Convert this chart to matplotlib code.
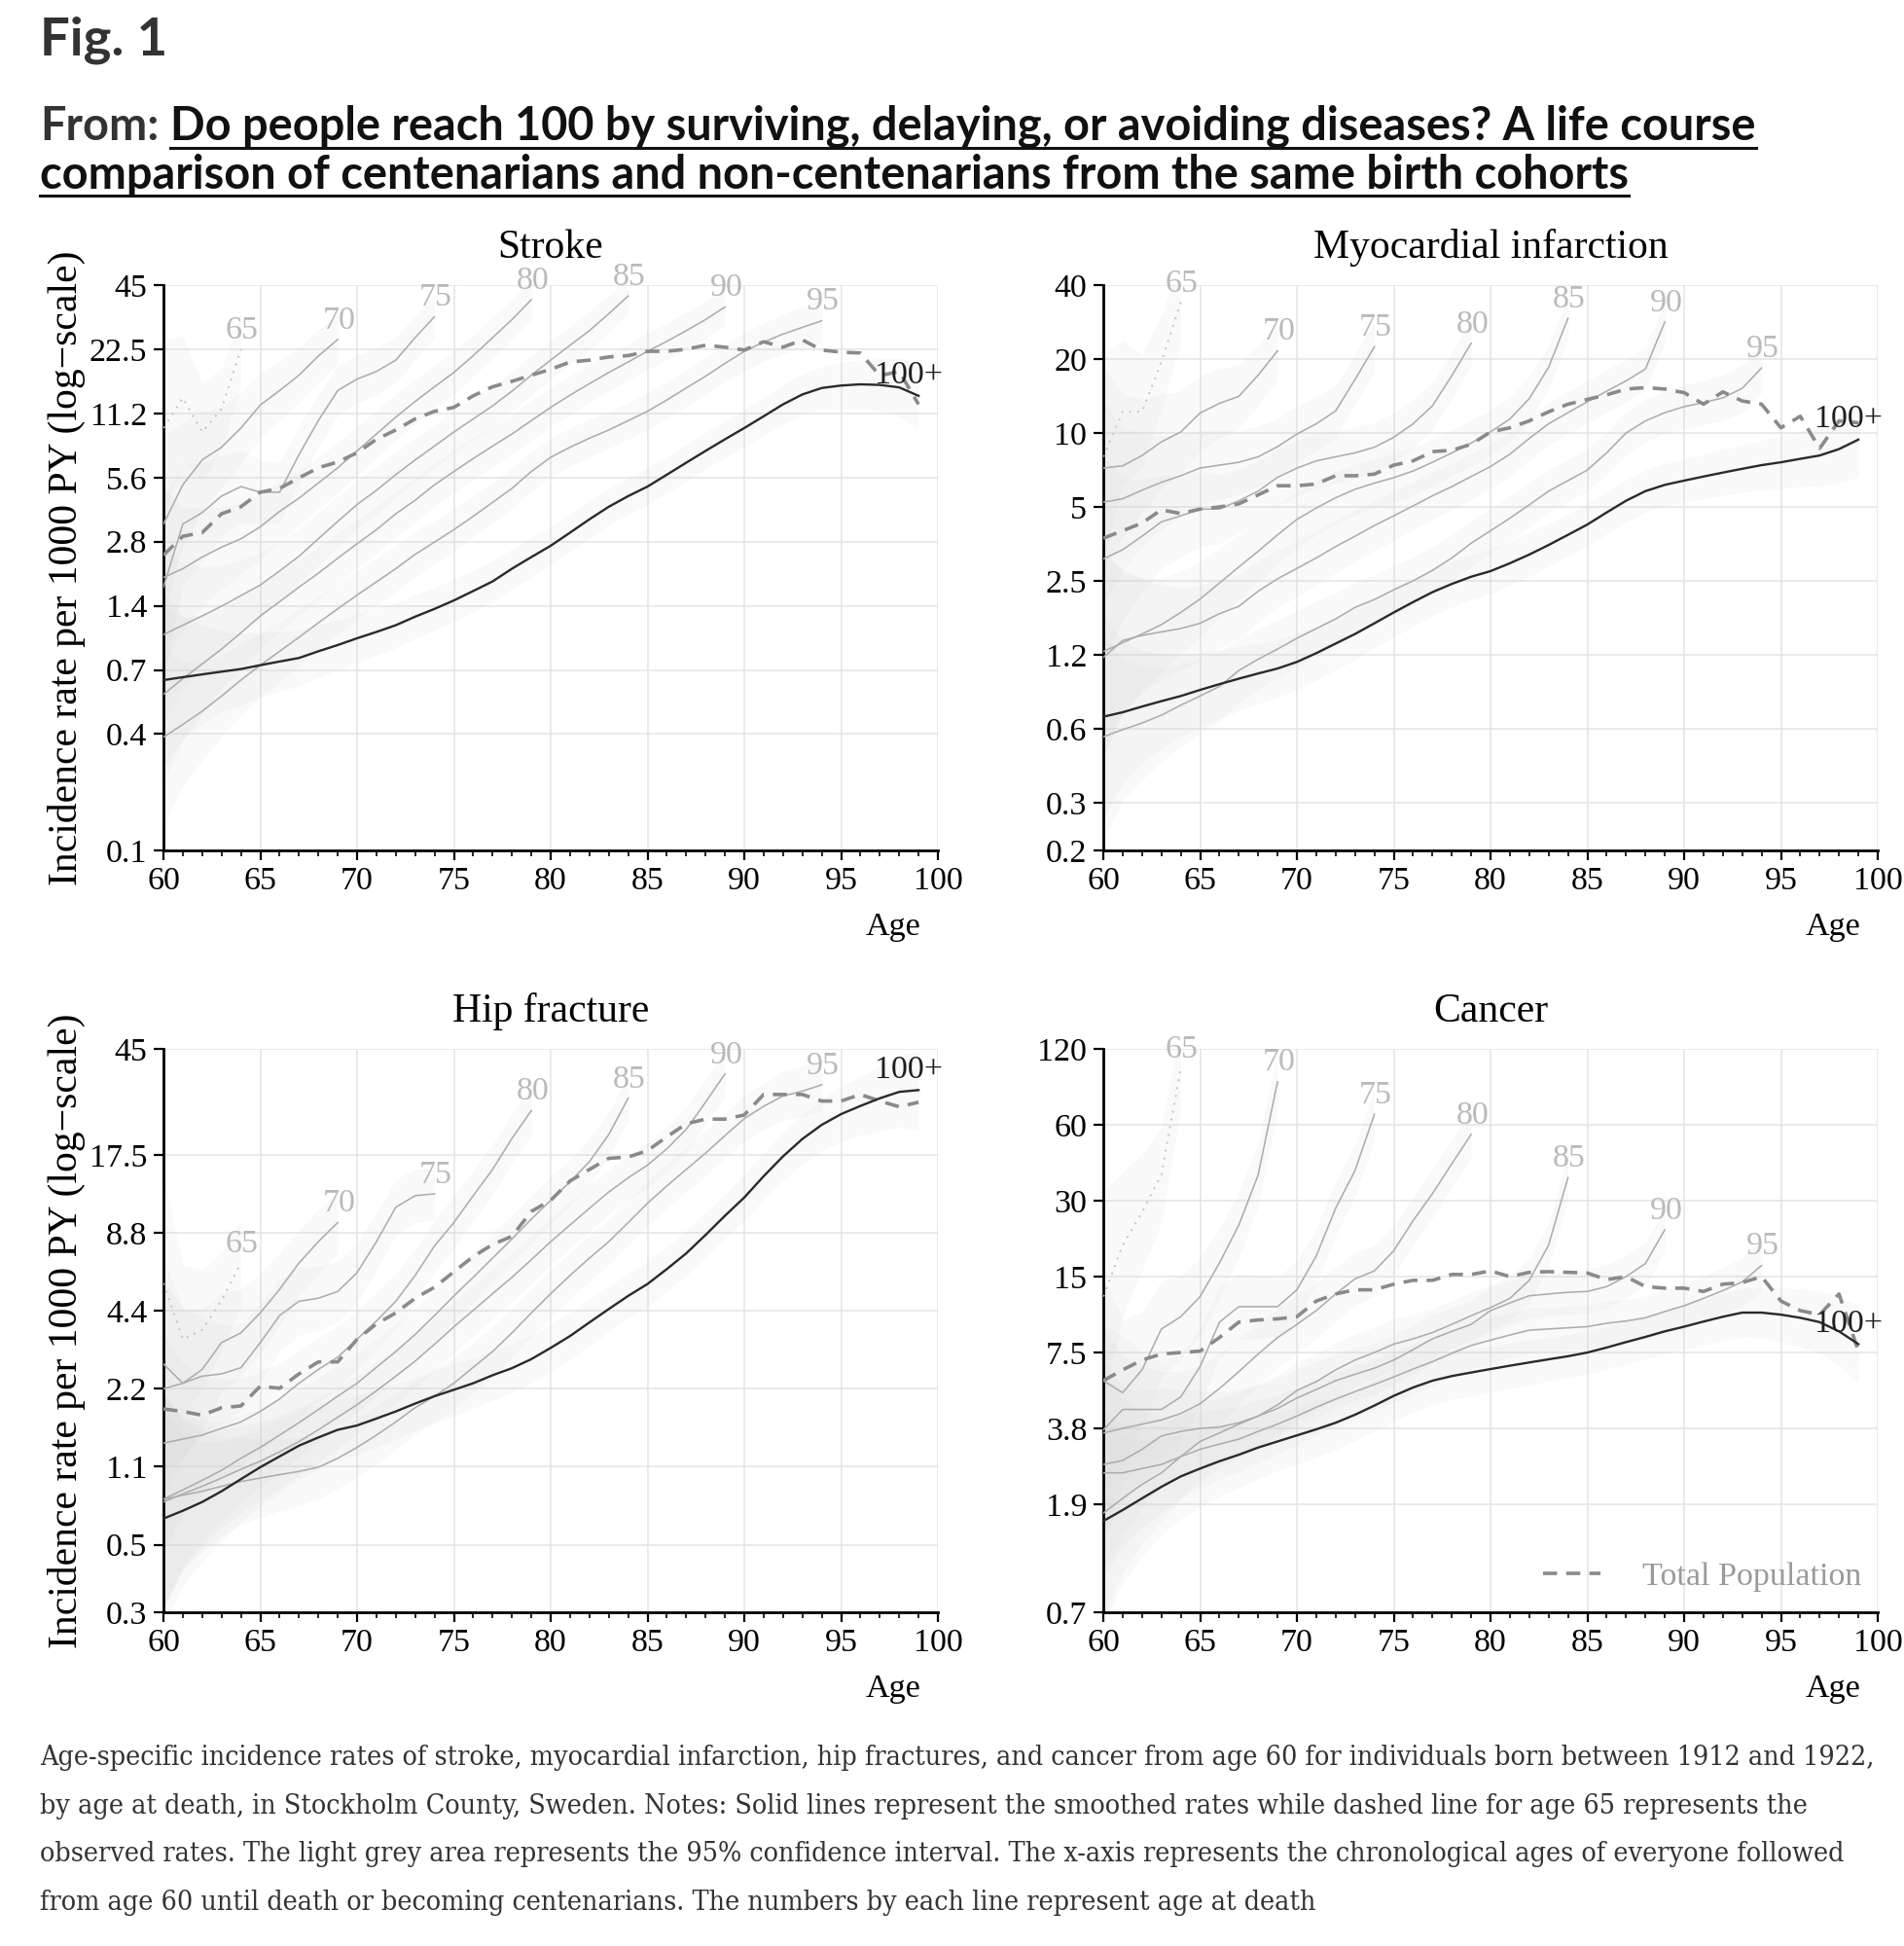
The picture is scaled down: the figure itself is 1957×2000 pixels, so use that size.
import matplotlib
matplotlib.use("Agg")
import matplotlib.pyplot as plt
import numpy as np
from matplotlib.lines import Line2D

W, H, DPI = 1958, 2000, 100

# ----------------------------------------------------------------- data
line_labels = ["65", "70", "75", "80", "85", "90", "95", "100+"]

# Stroke (incidence per 1000 PY), each cohort starts at age 60
stroke_65 = [9.6, 13.3, 9.2, 11.8, 22.5]
stroke_70 = [3.4, 5.2, 6.8, 7.8, 9.6, 12.3, 14.4, 17.0, 20.9, 25.0]
stroke_75 = [1.72, 3.4, 3.85, 4.6, 5.1, 4.8, 4.8, 7.2, 10.4, 14.4, 16.3, 17.7, 20.0, 25.5, 32.0]
stroke_80 = [1.91, 2.1, 2.38, 2.65, 2.9, 3.3, 3.9, 4.5, 5.3, 6.25, 7.5, 9.0, 10.8, 12.8, 15.0,
             17.5, 21.0, 25.5, 31.0, 38.4]
stroke_85 = [1.03, 1.14, 1.26, 1.4, 1.57, 1.76, 2.05, 2.4, 2.9, 3.5, 4.2, 4.9, 5.8, 6.8, 7.9,
             9.2, 10.6, 12.2, 14.3, 17.0, 20.0, 23.5, 27.5, 33.0, 40.0]
stroke_90 = [0.54, 0.64, 0.75, 0.88, 1.05, 1.26, 1.47, 1.72, 2.0, 2.35, 2.75, 3.2, 3.8, 4.4, 5.2,
             6.0, 6.9, 7.9, 9.0, 10.4, 12.0, 13.7, 15.5, 17.5, 19.6, 22.0, 24.5, 27.5, 31.0, 35.5]
stroke_95 = [0.34, 0.39, 0.45, 0.53, 0.63, 0.74, 0.86, 1.0, 1.17, 1.36, 1.58, 1.82, 2.1, 2.45, 2.8,
             3.2, 3.7, 4.3, 5.0, 6.0, 7.0, 7.8, 8.6, 9.4, 10.4, 11.5, 13.0, 14.8, 16.8, 19.3,
             22.0, 24.3, 26.5, 28.5, 30.6]
stroke_100 = [0.63, 0.65, 0.67, 0.69, 0.71, 0.74, 0.77, 0.80, 0.86, 0.92, 0.99, 1.06, 1.14, 1.25,
              1.36, 1.49, 1.65, 1.83, 2.1, 2.38, 2.69, 3.1, 3.58, 4.1, 4.6, 5.1, 5.8, 6.6, 7.5,
              8.5, 9.6, 10.9, 12.4, 13.8, 14.8, 15.2, 15.4, 15.3, 14.9, 13.6]
stroke_total = [2.43, 2.98, 3.1, 3.8, 4.1, 4.8, 5.0, 5.6, 6.25, 6.65, 7.35, 8.5, 9.4, 10.6, 11.5,
                12.0, 13.6, 15.0, 15.9, 17.0, 18.1, 19.6, 20.0, 20.7, 21.0, 22.0, 22.0, 22.5, 23.5,
                23.0, 22.3, 24.4, 23.0, 24.9, 22.3, 21.8, 21.6, 16.9, 17.7, 12.4]
stroke_yticks = [0.1, 0.3516, 0.7031, 1.406, 2.8125, 5.625, 11.25, 22.5, 45]
stroke_ylabels = ["0.1", "0.4", "0.7", "1.4", "2.8", "5.6", "11.2", "22.5", "45"]

# Myocardial infarction
mi_65 = [8.0, 12.2, 12.2, 19.5, 34.0]
mi_70 = [7.2, 7.35, 8.1, 9.2, 10.1, 12.06, 13.2, 14.1, 17.2, 21.6]
mi_75 = [5.23, 5.4, 5.85, 6.3, 6.7, 7.2, 7.4, 7.6, 8.0, 8.8, 9.9, 10.9, 12.3, 16.5, 22.4]
mi_80 = [3.07, 3.35, 3.8, 4.35, 4.6, 4.9, 4.9, 5.3, 5.8, 6.6, 7.2, 7.7, 8.0, 8.3, 8.75, 9.6,
         10.9, 12.9, 17.1, 23.2]
mi_85 = [1.29, 1.4, 1.52, 1.66, 1.86, 2.11, 2.45, 2.85, 3.3, 3.85, 4.45, 4.95, 5.45, 5.9, 6.25,
         6.58, 7.0, 7.6, 8.3, 9.1, 10.1, 11.4, 13.8, 18.5, 29.3]
mi_90 = [1.22, 1.43, 1.5, 1.55, 1.6, 1.68, 1.84, 1.97, 2.27, 2.55, 2.81, 3.1, 3.45, 3.8, 4.2, 4.6,
         5.05, 5.55, 6.05, 6.65, 7.3, 8.2, 9.5, 10.9, 12.1, 13.4, 14.8, 16.3, 18.2, 28.3]
mi_95 = [0.58, 0.62, 0.66, 0.71, 0.78, 0.85, 0.93, 1.08, 1.2, 1.32, 1.46, 1.6, 1.75, 1.95, 2.1,
         2.3, 2.5, 2.76, 3.1, 3.56, 4.0, 4.5, 5.1, 5.8, 6.4, 7.07, 8.3, 10.0, 11.2, 12.1, 12.8,
         13.3, 13.9, 15.2, 18.4]
mi_100 = [0.70, 0.73, 0.77, 0.81, 0.85, 0.90, 0.95, 1.00, 1.05, 1.10, 1.17, 1.27, 1.39, 1.52,
          1.68, 1.86, 2.05, 2.25, 2.43, 2.6, 2.74, 2.95, 3.2, 3.5, 3.85, 4.24, 4.75, 5.3, 5.8,
          6.15, 6.4, 6.65, 6.9, 7.15, 7.4, 7.6, 7.85, 8.1, 8.6, 9.4]
mi_total = [3.73, 4.0, 4.3, 4.87, 4.7, 4.9, 5.0, 5.15, 5.6, 6.1, 6.1, 6.2, 6.7, 6.7, 6.8, 7.4,
            7.7, 8.4, 8.5, 9.0, 10.1, 10.5, 11.2, 12.2, 13.1, 13.7, 14.3, 15.1, 15.3, 15.1, 14.6,
            13.1, 14.7, 13.5, 13.1, 10.5, 11.7, 8.66, 11.2, 11.0]
mi_yticks = [0.2, 0.3125, 0.625, 1.25, 2.5, 5, 10, 20, 40]
mi_ylabels = ["0.2", "0.3", "0.6", "1.2", "2.5", "5", "10", "20", "40"]

# Hip fracture
hip_65 = [5.6, 3.4, 3.7, 4.8, 6.7]
hip_70 = [2.19, 2.3, 2.6, 3.3, 3.6, 4.3, 5.3, 6.7, 8.1, 9.6]
hip_75 = [2.73, 2.3, 2.45, 2.5, 2.64, 3.3, 4.2, 4.77, 4.9, 5.2, 6.15, 8.1, 11.0, 12.2, 12.4]
hip_80 = [1.35, 1.40, 1.45, 1.54, 1.63, 1.79, 2.0, 2.3, 2.6, 2.9, 3.4, 4.0, 4.77, 6.0, 7.8, 9.6,
          12.2, 15.4, 20.3, 26.0]
hip_85 = [0.82, 0.89, 0.97, 1.06, 1.18, 1.3, 1.45, 1.62, 1.82, 2.05, 2.3, 2.65, 3.05, 3.55, 4.2,
          5.0, 5.9, 7.0, 8.3, 9.9, 11.7, 13.8, 16.5, 21.0, 29.0]
hip_90 = [0.80, 0.86, 0.92, 0.99, 1.07, 1.15, 1.25, 1.37, 1.52, 1.7, 1.9, 2.15, 2.45, 2.8, 3.25,
          3.8, 4.4, 5.1, 5.9, 6.9, 8.1, 9.4, 10.9, 12.6, 14.3, 16.0, 18.5, 22.0, 28.0, 36.0]
hip_95 = [0.82, 0.85, 0.88, 0.92, 0.96, 0.99, 1.02, 1.05, 1.09, 1.18, 1.3, 1.45, 1.63, 1.85, 2.05,
          2.3, 2.65, 3.05, 3.6, 4.3, 5.1, 6.0, 7.0, 8.1, 9.6, 11.4, 13.3, 15.4, 17.8, 20.8, 24.2,
          27.0, 29.6, 30.9, 32.7]
hip_100 = [0.69, 0.74, 0.80, 0.88, 0.98, 1.09, 1.2, 1.32, 1.42, 1.52, 1.58, 1.68, 1.79, 1.92,
           2.05, 2.17, 2.3, 2.47, 2.63, 2.85, 3.15, 3.5, 3.95, 4.45, 5.0, 5.56, 6.35, 7.3, 8.6,
           10.2, 12.0, 14.5, 17.3, 20.2, 22.9, 25.2, 27.1, 29.0, 30.7, 31.2]
hip_total = [1.83, 1.79, 1.73, 1.85, 1.88, 2.24, 2.2, 2.5, 2.78, 2.78, 3.4, 3.9, 4.3, 4.9, 5.4,
             6.2, 7.1, 7.9, 8.5, 10.6, 11.7, 13.9, 15.4, 17.0, 17.2, 18.2, 20.6, 23.1, 24.1, 24.1,
             25.0, 30.0, 30.0, 30.0, 28.3, 28.3, 30.0, 28.3, 26.9, 28.0]
hip_yticks = [0.3, 0.547, 1.094, 2.1875, 4.375, 8.75, 17.5, 45]
hip_ylabels = ["0.3", "0.5", "1.1", "2.2", "4.4", "8.8", "17.5", "45"]

# Cancer
cancer_65 = [12.5, 20.0, 27.0, 38.0, 100.0]
cancer_70 = [5.8, 5.2, 6.4, 9.3, 10.4, 12.5, 17.0, 24.0, 38.0, 89.0]
cancer_75 = [3.7, 4.46, 4.46, 4.46, 5.0, 6.6, 9.9, 11.4, 11.4, 11.4, 13.3, 18.1, 28.0, 39.5, 66.0]
cancer_80 = [3.6, 3.75, 3.9, 4.05, 4.3, 4.7, 5.4, 6.3, 7.4, 8.6, 9.7, 11.0, 12.8, 14.7, 15.8,
             19.0, 25.0, 32.0, 42.0, 55.0]
cancer_85 = [2.7, 2.8, 3.1, 3.5, 3.65, 3.75, 3.8, 3.95, 4.2, 4.65, 5.3, 5.75, 6.4, 7.0, 7.5, 8.1,
             8.5, 9.0, 9.7, 10.5, 11.3, 12.3, 14.5, 20.0, 37.0]
cancer_90 = [1.73, 1.98, 2.25, 2.5, 2.9, 3.33, 3.6, 3.9, 4.2, 4.5, 4.95, 5.35, 5.8, 6.15, 6.5, 7.0,
             7.7, 8.5, 9.1, 9.7, 11.0, 11.8, 12.6, 12.8, 13.0, 13.1, 13.7, 15.0, 16.9, 23.0]
cancer_95 = [2.5, 2.5, 2.6, 2.7, 2.9, 3.1, 3.25, 3.4, 3.65, 3.9, 4.2, 4.55, 4.9, 5.25, 5.6, 6.0,
             6.45, 6.9, 7.45, 8.0, 8.4, 8.8, 9.2, 9.3, 9.4, 9.5, 9.8, 10.0, 10.3, 10.9, 11.5, 12.3,
             13.2, 14.3, 16.6]
cancer_100 = [1.61, 1.78, 1.98, 2.2, 2.42, 2.6, 2.78, 2.95, 3.15, 3.33, 3.52, 3.72, 3.95, 4.25,
              4.62, 5.05, 5.45, 5.8, 6.05, 6.25, 6.45, 6.65, 6.85, 7.05, 7.25, 7.5, 7.85, 8.25,
              8.65, 9.1, 9.5, 9.95, 10.4, 10.8, 10.8, 10.6, 10.3, 9.9, 9.1, 8.1]
cancer_total = [5.8, 6.4, 7.0, 7.4, 7.5, 7.6, 8.6, 9.9, 10.1, 10.2, 10.4, 12.0, 12.8, 13.3, 13.3,
                14.0, 14.5, 14.5, 15.3, 15.3, 15.8, 15.0, 15.6, 15.7, 15.6, 15.5, 14.6, 15.0, 13.7,
                13.5, 13.5, 13.1, 14.0, 14.2, 15.0, 12.0, 11.0, 10.6, 12.8, 7.6]
cancer_yticks = [0.7, 1.875, 3.75, 7.5, 15, 30, 60, 120]
cancer_ylabels = ["0.7", "1.9", "3.8", "7.5", "15", "30", "60", "120"]

# width of the light-grey 95% CI band (multiplicative), by years since age 60
ci_factor = [2.6, 1.95, 1.7, 1.55, 1.47, 1.42, 1.38, 1.35, 1.33, 1.31, 1.3, 1.29, 1.28, 1.27,
             1.26, 1.26, 1.25, 1.25, 1.24, 1.24, 1.23, 1.23, 1.23, 1.22, 1.22, 1.22, 1.22, 1.22,
             1.22, 1.22, 1.23, 1.23, 1.24, 1.25, 1.26, 1.28, 1.3, 1.33, 1.37, 1.42]

panels = [
    ("Stroke", [stroke_65, stroke_70, stroke_75, stroke_80, stroke_85, stroke_90, stroke_95, stroke_100],
     stroke_total, stroke_yticks, stroke_ylabels, [168, 293, 796, 581], True, False),
    ("Myocardial infarction", [mi_65, mi_70, mi_75, mi_80, mi_85, mi_90, mi_95, mi_100],
     mi_total, mi_yticks, mi_ylabels, [1134, 293, 796, 581], False, False),
    ("Hip fracture", [hip_65, hip_70, hip_75, hip_80, hip_85, hip_90, hip_95, hip_100],
     hip_total, hip_yticks, hip_ylabels, [168, 1078, 796, 579], True, False),
    ("Cancer", [cancer_65, cancer_70, cancer_75, cancer_80, cancer_85, cancer_90, cancer_95, cancer_100],
     cancer_total, cancer_yticks, cancer_ylabels, [1134, 1078, 796, 579], False, True),
]

# ----------------------------------------------------------------- style
plt.rcParams["font.family"] = ["Liberation Serif", "DejaVu Serif"]
FS = 24.5
C_COH = "#adadad"
C_LAB = "#bababa"
C_DARK = "#2a2a2a"
C_TOT = "#8a8a8a"
C_BAND = "#d0d0d0"

fig = plt.figure(figsize=(W / DPI, H / DPI), dpi=DPI)
fig.patch.set_facecolor("white")

for (title, lines, total, yt, yl, box, ylab, legend) in panels:
    x0, ytop, w, h = box
    ax = fig.add_axes([x0 / W, 1 - (ytop + h) / H, w / W, h / H])
    ax.set_yscale("log")
    ax.set_xlim(60, 100)
    ax.set_ylim(yt[0], yt[-1])
    ax.set_yticks(yt)
    ax.set_yticklabels(yl)
    ax.yaxis.set_minor_locator(matplotlib.ticker.NullLocator())
    ax.set_xticks(range(60, 101, 5))
    ax.set_xticks(range(60, 101, 1), minor=True)
    ax.grid(True, which="major", color="#e4e4e4", lw=1.1, zorder=0)
    ax.set_axisbelow(True)
    for s in ("top", "right"):
        ax.spines[s].set_visible(False)
    for s in ("left", "bottom"):
        ax.spines[s].set_linewidth(2.0)
        ax.spines[s].set_color("black")
    ax.tick_params(which="major", direction="out", length=7, width=1.6, labelsize=FS, pad=5,
                   color="black")
    ax.tick_params(axis="x", which="minor", direction="out", length=4.5, width=1.2, color="black")

    # confidence bands
    for vals in lines:
        v = np.asarray(vals)
        ages = np.arange(60, 60 + len(v))
        f = np.asarray(ci_factor[:len(v)])
        ax.fill_between(ages, v / f, v * f, color=C_BAND, alpha=0.12, lw=0, zorder=1)

    # cohort lines
    for lab, vals in zip(line_labels, lines):
        v = np.asarray(vals)
        ages = np.arange(60, 60 + len(v))
        if lab == "65":
            ax.plot(ages, v, color="#c4c4c4", lw=1.4, ls=(0, (1, 3.2)), zorder=3)
        elif lab == "100+":
            ax.plot(ages, v, color=C_DARK, lw=1.7, zorder=5)
        else:
            ax.plot(ages, v, color=C_COH, lw=1.15, zorder=3)
        if lab == "100+":
            ax.annotate(lab, (ages[-1], v[-1]), xytext=(-7, 15), textcoords="offset points",
                        ha="center", va="center", fontsize=FS, color="#1e1e1e", zorder=6,
                        annotation_clip=False)
        else:
            ax.annotate(lab, (ages[-1], v[-1]), xytext=(1, 14), textcoords="offset points",
                        ha="center", va="center", fontsize=FS, color=C_LAB, zorder=6,
                        annotation_clip=False)

    tv = np.asarray(total)
    ax.plot(np.arange(60, 60 + len(tv)), tv, color=C_TOT, lw=2.6, ls=(0, (4.0, 2.6)), zorder=4)

    ax.text(0.5, 1 + 28 / h, title, transform=ax.transAxes, ha="center", va="baseline",
            fontsize=30)
    ax.set_xlabel("Age", fontsize=FS)
    ax.xaxis.set_label_coords(0.942, -0.109)
    if ylab:
        ax.set_ylabel("Incidence rate per 1000 PY (log\u2212scale)", fontsize=30)
        ax.yaxis.set_label_coords(-0.100, 0.5)
    if legend:
        hd = Line2D([], [], color=C_TOT, lw=2.6, ls=(0, (4.0, 2.6)))
        ax.legend([hd], ["Total Population"], loc="lower right", bbox_to_anchor=(1.017, -0.017),
                  frameon=False, fontsize=FS, handlelength=1.75, handletextpad=1.25,
                  labelcolor="#9a9a9a")

# ----------------------------------------------------------------- header & caption
fig.canvas.draw()
rend = fig.canvas.get_renderer()


def width_px(t):
    return t.get_window_extent(renderer=rend).width


SANS = ["Lato", "DejaVu Sans"]
figt = fig.text(41 / W, 1 - 56 / H, "Fig. 1", fontsize=40, fontweight="bold", family=SANS,
                color="#333333", va="baseline", ha="left")
figt.set_fontsize(40 * 131 / width_px(figt))

title1a = "From:"
title1b = "Do people reach 100 by surviving, delaying, or avoiding diseases? A life course"
title2 = "comparison of centenarians and non-centenarians from the same birth cohorts"
ta = fig.text(41 / W, 1 - 144 / H, title1a, fontsize=30, fontweight="bold", family=SANS,
              color="#333333", va="baseline", ha="left")
tb = fig.text(0, 1 - 144 / H, title1b, fontsize=30, fontweight="bold", family=SANS,
              color="#111111", va="baseline", ha="left")
sp = fig.text(0, 0, "n", fontsize=30, fontweight="bold", family=SANS, alpha=0)
total_w = width_px(ta) + 0.45 * width_px(sp) + width_px(tb)
fs_t = 30 * 1760 / total_w
for t in (ta, tb, sp):
    t.set_fontsize(fs_t)
bx = 41 + width_px(ta) + 0.45 * width_px(sp)
tb.set_x(bx / W)
tc = fig.text(41 / W, 1 - 194 / H, title2, fontsize=fs_t, fontweight="bold", family=SANS,
              color="#111111", va="baseline", ha="left")
fig.canvas.draw()
for t, yb in ((tb, 152), (tc, 201)):
    bb = t.get_window_extent(renderer=rend)
    fig.add_artist(Line2D([bb.x0 / W, bb.x1 / W], [1 - yb / H, 1 - yb / H], color="#111111",
                          lw=2.2, transform=fig.transFigure))

caption = [
    "Age-specific incidence rates of stroke, myocardial infarction, hip fractures, and cancer from age 60 for individuals born between 1912 and 1922,",
    "by age at death, in Stockholm County, Sweden. Notes: Solid lines represent the smoothed rates while dashed line for age 65 represents the",
    "observed rates. The light grey area represents the 95% confidence interval. The x-axis represents the chronological ages of everyone followed",
    "from age 60 until death or becoming centenarians. The numbers by each line represent age at death",
]
SERIF = ["DejaVu Serif"]
c0 = fig.text(41 / W, 1 - 1814 / H, caption[0], fontsize=16, family=SERIF, fontstretch="condensed",
              color="#333333", va="baseline", ha="left")
fs_c = 16 * 1890 / width_px(c0)
c0.set_fontsize(fs_c)
for i, line in enumerate(caption[1:], start=1):
    fig.text(41 / W, 1 - (1814 + 49.7 * i) / H, line, fontsize=fs_c, family=SERIF,
             fontstretch="condensed", color="#333333", va="baseline", ha="left")

fig.savefig("out.png", dpi=DPI, facecolor="white")
